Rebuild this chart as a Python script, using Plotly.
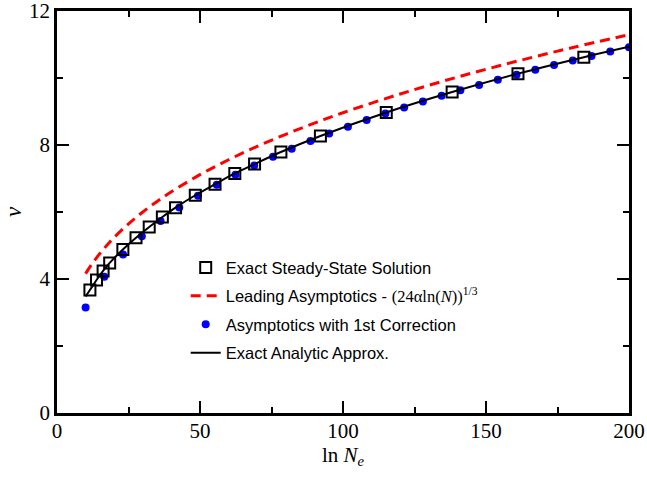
import plotly.graph_objects as go

# Exact steady-state solution (open squares): x = ln N_e, y = v
exact_x = [11.51, 13.82, 16.12, 18.42, 23.03, 27.63, 32.24, 36.84, 41.45, 48.35,
           55.26, 62.17, 69.08, 78.29, 92.10, 115.13, 138.16, 161.18, 184.21]
exact_y = [3.67, 3.97, 4.24, 4.48, 4.88, 5.23, 5.55, 5.85, 6.13, 6.50,
           6.83, 7.15, 7.43, 7.79, 8.27, 8.97, 9.58, 10.13, 10.62]

# Leading asymptotics (red dashed)
lead_x = [10, 12, 14, 16, 18, 20, 25, 30, 35, 40, 50, 60, 70, 80, 90, 100,
          120, 140, 160, 180, 200]
lead_y = [4.160, 4.421, 4.653, 4.866, 5.061, 5.241, 5.646, 6.000, 6.316, 6.604,
          7.114, 7.560, 7.958, 8.320, 8.653, 8.963, 9.524, 10.027, 10.483,
          10.902, 11.292]

# Asymptotics with 1st correction (blue dots)
corr_x = [10.00, 16.55, 23.10, 29.66, 36.21, 42.76, 49.31, 55.86, 62.41, 68.97,
          75.52, 82.07, 88.62, 95.17, 101.72, 108.28, 114.83, 121.38, 127.93,
          134.48, 141.03, 147.59, 154.14, 160.69, 167.24, 173.79, 180.34,
          186.90, 193.45, 200.00]
corr_y = [3.150, 4.068, 4.735, 5.274, 5.731, 6.131, 6.488, 6.812, 7.111, 7.389,
          7.647, 7.890, 8.121, 8.340, 8.548, 8.748, 8.939, 9.122, 9.298, 9.468,
          9.633, 9.792, 9.947, 10.098, 10.244, 10.386, 10.525, 10.660, 10.791,
          10.920]

# Exact analytic approximation (black line)
anal_x = [10.0, 11.51, 13.82, 16.12, 18.42, 23.03, 27.63, 32.24, 36.84, 41.45,
          48.35, 55.26, 62.17, 69.08, 78.29, 92.10, 115.13, 138.16, 161.18,
          184.21, 200.0]
anal_y = [3.48, 3.67, 3.97, 4.24, 4.48, 4.88, 5.23, 5.55, 5.85, 6.13, 6.50,
          6.83, 7.15, 7.43, 7.79, 8.27, 8.97, 9.58, 10.13, 10.62, 10.93]

x_ticks = [0, 50, 100, 150, 200]
y_ticks = [0, 4, 8, 12]

SERIF = "Liberation Serif"
SANS = "Liberation Sans"

fig = go.Figure()

fig.add_trace(go.Scatter(
    x=corr_x, y=corr_y, mode="markers",
    marker=dict(symbol="circle", size=8, color="blue"),
    name="Asymptotics with 1st Correction", legendrank=3, legendgroup="c"))

fig.add_trace(go.Scatter(
    x=lead_x, y=lead_y, mode="lines", line_shape="spline",
    line=dict(color="red", width=3, dash="10px,6px"),
    name=("Leading Asymptotics - <span style=\"font-family:Liberation Serif\">"
          "(24αln(<i>N</i>))<sup>1/3</sup></span>"),
    legendrank=2, legendgroup="b"))

fig.add_trace(go.Scatter(
    x=anal_x, y=anal_y, mode="lines", line_shape="spline",
    line=dict(color="black", width=2),
    name="Exact Analytic Approx.", legendrank=4, legendgroup="d"))

fig.add_trace(go.Scatter(
    x=exact_x, y=exact_y, mode="markers",
    marker=dict(symbol="square-open", size=11, color="black",
                line=dict(width=2, color="black")),
    name="Exact Steady-State Solution", legendrank=1, legendgroup="a"))

axis_common = dict(
    showgrid=False, zeroline=False, automargin=False,
    showline=True, linecolor="black", linewidth=2.5,
    mirror="ticks", ticks="inside", ticklen=12, tickwidth=2, tickcolor="black",
    tickfont=dict(family=SERIF, size=21, color="black"),
    ticklabeloverflow="allow",
)

fig.update_xaxes(
    range=[0, 200], tickvals=x_ticks, ticktext=[str(v) for v in x_ticks],
    minor=dict(ticks="inside", ticklen=6, tickwidth=2, tickcolor="black",
               tick0=0, dtick=25),
    title=dict(text="ln <i>N</i><sub><i>e</i></sub>",
               font=dict(family=SERIF, size=21, color="black"), standoff=0),
    ticklabelstandoff=-3,
    **axis_common)

fig.update_yaxes(
    range=[0, 12], tickvals=y_ticks, ticktext=[str(v) for v in y_ticks],
    minor=dict(ticks="inside", ticklen=6, tickwidth=2, tickcolor="black",
               tick0=0, dtick=2),
    title=dict(text="<i>v</i>", font=dict(family=SERIF, size=23, color="black"),
               standoff=1),
    ticklabelstandoff=0,
    **axis_common)

fig.update_layout(
    width=647, height=480,
    margin=dict(l=57, r=18, t=11, b=67),
    paper_bgcolor="white", plot_bgcolor="white",
    showlegend=True,
    legend=dict(x=0.225, y=0.405, xanchor="left", yanchor="top",
                bgcolor="rgba(0,0,0,0)", borderwidth=0,
                font=dict(family=SANS, size=16.5, color="black"),
                itemwidth=30, tracegroupgap=4),
)

fig.write_html("out.html",
               config={"displayModeBar": False},
               post_script="document.body.style.margin='0';")
